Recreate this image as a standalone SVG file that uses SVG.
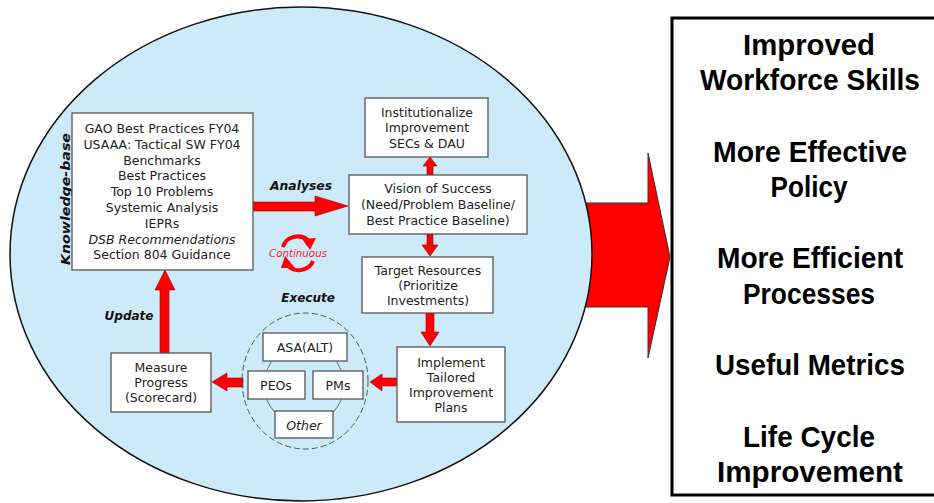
<svg xmlns="http://www.w3.org/2000/svg" width="934" height="503" viewBox="0 0 934 503">
  <style>
    .box { fill: #ffffff; stroke: #555555; stroke-width: 1.3; }
    .txt { font-family: "DejaVu Sans", "Liberation Sans", sans-serif; font-size: 12.5px; fill: #222222; text-anchor: middle; }
    .lbl { font-family: "DejaVu Sans", "Liberation Sans", sans-serif; font-size: 12px; font-weight: bold; font-style: italic; fill: #111111; text-anchor: middle; }
    .big { font-family: "Liberation Sans", Arial, sans-serif; font-size: 30px; font-weight: bold; fill: #000000; text-anchor: middle; }
    .arrow { fill: #ff0000; stroke: #990000; stroke-width: 0.6; }
    .loop { fill: none; stroke: #ff0000; stroke-width: 4; }
  </style>

  <!-- Outcome arrow leaving the cycle -->
  <g id="outcome-arrow">
    <polygon points="560,203 648,203 648,153 670,257 648,358 648,307 560,307" fill="#ff0000" stroke="#333333" stroke-width="1"/>
  </g>

  <!-- Improvement cycle background -->
  <g id="cycle">
    <ellipse cx="301" cy="254" rx="291" ry="247" fill="#cdeafb" stroke="#111111" stroke-width="1.5"/>
  </g>

  <!-- Outcomes box -->
  <g id="outcomes">
    <rect x="672" y="18" width="270" height="477" fill="#ffffff" stroke="#000000" stroke-width="3"/>
    <text class="big" x="809" y="55" textLength="132" lengthAdjust="spacingAndGlyphs">Improved</text>
    <text class="big" x="810" y="90" textLength="220" lengthAdjust="spacingAndGlyphs">Workforce Skills</text>
    <text class="big" x="810" y="162" textLength="194" lengthAdjust="spacingAndGlyphs">More Effective</text>
    <text class="big" x="809" y="197" textLength="77" lengthAdjust="spacingAndGlyphs">Policy</text>
    <text class="big" x="810" y="268" textLength="186" lengthAdjust="spacingAndGlyphs">More Efficient</text>
    <text class="big" x="809" y="304" textLength="132" lengthAdjust="spacingAndGlyphs">Processes</text>
    <text class="big" x="810" y="375" textLength="190" lengthAdjust="spacingAndGlyphs">Useful Metrics</text>
    <text class="big" x="809" y="447" textLength="132" lengthAdjust="spacingAndGlyphs">Life Cycle</text>
    <text class="big" x="810" y="482" textLength="186" lengthAdjust="spacingAndGlyphs">Improvement</text>
  </g>

  <!-- Connectors -->
  <g id="connectors">
    <!-- Analyses -->
    <polygon class="arrow" points="253,202 315,202 315,196 348,206 315,216 315,211 253,211"/>
    <!-- Vision to Institutionalize -->
    <polygon class="arrow" points="427,175 427,166 423,166 430,157 437,166 433,166 433,175"/>
    <!-- Vision to Target -->
    <polygon class="arrow" points="427,234 427,245 422,245 430,256 438,245 433,245 433,234"/>
    <!-- Target to Implement -->
    <polygon class="arrow" points="426,313 426,332 421,332 430,346 439,332 434,332 434,313"/>
    <!-- Implement to Execute -->
    <polygon class="arrow" points="397,378 382,378 382,374 370,382 382,391 382,386 397,386"/>
    <!-- Execute to Measure -->
    <polygon class="arrow" points="243,378 227,378 227,373 212,382 227,391 227,387 243,387"/>
    <!-- Update -->
    <polygon class="arrow" points="160,353 160,290 155,290 165,270 175,290 169,290 169,353"/>
    <!-- Continuous loop -->
    <path class="loop" d="M283,247 A15,13 0 0 1 308,240"/>
    <polygon points="302,239 316,238 310,250" fill="#ff0000"/>
    <path class="loop" d="M313,261 A15,13 0 0 1 289,267"/>
    <polygon points="295,268 281,268 285,256" fill="#ff0000"/>
  </g>

  <!-- Labels -->
  <text class="lbl" x="301" y="190" textLength="62" lengthAdjust="spacingAndGlyphs">Analyses</text>
  <text class="lbl" x="129" y="320">Update</text>
  <text class="lbl" x="308" y="302">Execute</text>
  <text class="lbl" transform="translate(70,199) rotate(-90)" x="0" y="0" textLength="132" lengthAdjust="spacingAndGlyphs">Knowledge-base</text>
  <text x="298" y="257" font-family="DejaVu Sans, Liberation Sans, sans-serif" font-size="10px" font-style="italic" fill="#ff2020" text-anchor="middle" textLength="58" lengthAdjust="spacingAndGlyphs">Continuous</text>

  <g id="knowledge-base">
    <rect class="box" x="72" y="113" width="181" height="157"/>
    <text class="txt" x="162" y="133">GAO Best Practices FY04</text>
    <text class="txt" x="162" y="148.8">USAAA: Tactical SW FY04</text>
    <text class="txt" x="162" y="164.6">Benchmarks</text>
    <text class="txt" x="162" y="180.4">Best Practices</text>
    <text class="txt" x="162" y="196.2">Top 10 Problems</text>
    <text class="txt" x="162" y="212">Systemic Analysis</text>
    <text class="txt" x="162" y="227.8">IEPRs</text>
    <text class="txt" x="162" y="243.6" font-style="italic">DSB Recommendations</text>
    <text class="txt" x="162" y="259.4">Section 804 Guidance</text>
  </g>

  <g id="institutionalize">
    <rect class="box" x="365" y="98" width="123" height="59"/>
    <text class="txt" x="427" y="117">Institutionalize</text>
    <text class="txt" x="427" y="132">Improvement</text>
    <text class="txt" x="427" y="148">SECs &amp; DAU</text>
  </g>

  <g id="vision">
    <rect class="box" x="349" y="175" width="178" height="59"/>
    <text class="txt" x="438" y="193">Vision of Success</text>
    <text class="txt" x="438" y="209">(Need/Problem Baseline/</text>
    <text class="txt" x="438" y="225">Best Practice Baseline)</text>
  </g>

  <g id="target">
    <rect class="box" x="362" y="257" width="131" height="56"/>
    <text class="txt" x="428" y="275">Target Resources</text>
    <text class="txt" x="428" y="290">(Prioritize</text>
    <text class="txt" x="428" y="305">Investments)</text>
  </g>

  <g id="implement">
    <rect class="box" x="397" y="347" width="108" height="75"/>
    <text class="txt" x="451" y="367">Implement</text>
    <text class="txt" x="451" y="382">Tailored</text>
    <text class="txt" x="451" y="397">Improvement</text>
    <text class="txt" x="451" y="412">Plans</text>
  </g>

  <g id="measure">
    <rect class="box" x="111" y="353" width="100" height="59"/>
    <text class="txt" x="161" y="372">Measure</text>
    <text class="txt" x="161" y="387">Progress</text>
    <text class="txt" x="161" y="402">(Scorecard)</text>
  </g>

  <g id="execute">
    <ellipse cx="305" cy="381" rx="63" ry="68" fill="none" stroke="#555555" stroke-width="1" stroke-dasharray="6 3"/>
    <circle cx="304" cy="385" r="40" fill="none" stroke="#666666" stroke-width="1"/>
  </g>

  <g id="asa-alt">
    <rect class="box" x="263" y="333" width="84" height="28"/>
    <text class="txt" x="305" y="352">ASA(ALT)</text>
  </g>
  <g id="peos">
    <rect class="box" x="248" y="371" width="57" height="28"/>
    <text class="txt" x="276" y="390">PEOs</text>
  </g>
  <g id="pms">
    <rect class="box" x="313" y="371" width="50" height="28"/>
    <text class="txt" x="338" y="390">PMs</text>
  </g>
  <g id="other">
    <rect class="box" x="275" y="411" width="58" height="27"/>
    <text class="txt" x="304" y="430" font-style="italic">Other</text>
  </g>
</svg>
